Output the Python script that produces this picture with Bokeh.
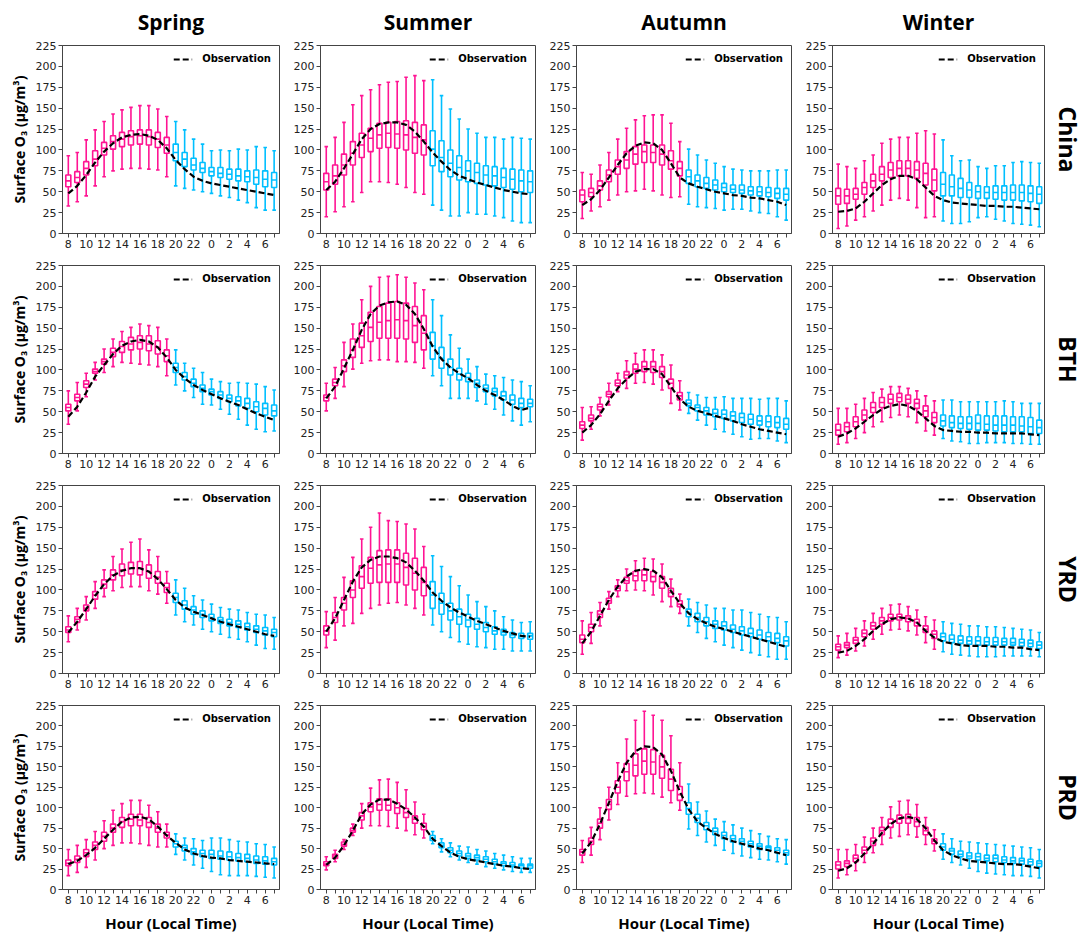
from bokeh.plotting import figure
from bokeh.layouts import gridplot
from bokeh.models import ColumnDataSource, FixedTicker, Title, Range1d
from bokeh.transform import dodge
from bokeh.embed import file_html
from bokeh.resources import INLINE

# ---------------- data ----------------
hours = [8, 9, 10, 11, 12, 13, 14, 15, 16, 17, 18, 19, 20, 21, 22, 23, 0, 1, 2, 3, 4, 5, 6, 7]
seasons = ["Spring", "Summer", "Autumn", "Winter"]
regions = ["China", "BTH", "YRD", "PRD"]
y_ticks = [0, 25, 50, 75, 100, 125, 150, 175, 200, 225]

# China
china_spring_lo = [33, 38, 45, 57, 68, 75, 77, 78, 78, 77, 76, 68, 57, 54, 52, 50, 48, 45, 43, 40, 37, 31, 28, 28]
china_spring_q1 = [56, 61, 70, 81, 94, 101, 104, 106, 107, 106, 103, 96, 87, 80, 76, 73, 69, 67, 65, 63, 62, 59, 56, 55]
china_spring_med = [63, 67, 78, 89, 102, 110, 113, 116, 117, 116, 113, 106, 97, 89, 82, 78, 74, 72, 71, 69, 68, 67, 65, 64]
china_spring_q3 = [70, 74, 86, 99, 109, 117, 121, 123, 124, 124, 121, 115, 107, 97, 90, 85, 79, 79, 77, 77, 75, 76, 75, 73]
china_spring_hi = [93, 97, 112, 124, 134, 143, 148, 151, 153, 153, 149, 140, 134, 124, 113, 107, 99, 100, 99, 101, 100, 104, 103, 99]
china_spring_obs = [48, 57, 70, 85, 98, 108, 115, 118, 119, 117, 112, 102, 88, 77, 68, 63, 60, 58, 56, 54, 52, 50, 48, 46]

china_summer_lo = [20, 26, 32, 38, 49, 62, 62, 61, 59, 55, 49, 47, 34, 28, 21, 21, 25, 23, 23, 21, 19, 15, 13, 13]
china_summer_q1 = [52, 59, 70, 82, 91, 98, 102, 103, 102, 100, 96, 94, 81, 74, 68, 64, 62, 60, 58, 57, 55, 53, 50, 49]
china_summer_med = [62, 69, 82, 96, 106, 114, 118, 120, 119, 118, 115, 112, 101, 91, 84, 79, 75, 73, 70, 69, 67, 65, 63, 62]
china_summer_q3 = [72, 82, 95, 110, 120, 126, 132, 133, 134, 135, 133, 130, 123, 111, 100, 93, 87, 84, 81, 80, 78, 77, 76, 75]
china_summer_hi = [104, 115, 133, 154, 165, 172, 178, 181, 182, 187, 189, 183, 184, 165, 149, 137, 125, 120, 115, 115, 113, 115, 114, 113]
china_summer_obs = [52, 62, 78, 95, 113, 125, 131, 133, 133, 130, 122, 110, 97, 86, 76, 69, 65, 61, 58, 55, 52, 50, 48, 47]

china_autumn_lo = [18, 27, 32, 40, 46, 50, 51, 53, 51, 46, 43, 44, 35, 32, 31, 30, 28, 29, 29, 27, 25, 24, 20, 16]
china_autumn_q1 = [38, 44, 52, 62, 71, 78, 83, 85, 85, 82, 77, 69, 60, 56, 54, 52, 50, 49, 48, 46, 45, 44, 42, 40]
china_autumn_med = [46, 49, 57, 70, 80, 88, 95, 98, 97, 95, 87, 78, 68, 63, 60, 58, 55, 53, 52, 51, 50, 49, 48, 47]
china_autumn_q3 = [52, 54, 63, 76, 88, 98, 104, 106, 106, 106, 99, 86, 76, 70, 67, 64, 60, 58, 58, 56, 56, 55, 54, 54]
china_autumn_hi = [73, 71, 82, 97, 113, 126, 136, 141, 142, 142, 132, 110, 101, 94, 88, 84, 80, 77, 76, 75, 75, 75, 76, 76]
china_autumn_obs = [34, 41, 52, 67, 82, 96, 105, 109, 108, 100, 84, 67, 60, 56, 53, 50, 48, 46, 45, 43, 42, 40, 38, 34]

china_winter_lo = [6, 9, 16, 20, 27, 34, 40, 42, 40, 31, 19, 20, 15, 12, 12, 14, 19, 20, 17, 15, 12, 11, 10, 8]
china_winter_q1 = [35, 36, 41, 47, 55, 63, 67, 69, 69, 66, 58, 51, 45, 45, 43, 43, 42, 42, 41, 40, 40, 39, 38, 36]
china_winter_med = [45, 45, 47, 55, 63, 71, 76, 78, 78, 76, 72, 64, 59, 56, 54, 52, 50, 49, 49, 49, 49, 49, 48, 47]
china_winter_q3 = [54, 53, 54, 61, 71, 80, 85, 87, 87, 86, 84, 77, 73, 70, 66, 61, 57, 56, 57, 57, 58, 58, 57, 56]
china_winter_hi = [83, 80, 78, 87, 94, 108, 113, 115, 115, 120, 123, 119, 112, 93, 87, 88, 80, 78, 81, 81, 85, 86, 85, 84]
china_winter_obs = [26, 27, 30, 38, 48, 58, 65, 69, 69, 65, 55, 45, 40, 37, 36, 35, 34, 33, 33, 32, 32, 31, 30, 29]

# BTH
bth_spring_lo = [35, 51, 68, 88, 97, 104, 109, 108, 107, 106, 104, 93, 82, 75, 67, 59, 58, 53, 47, 41, 34, 29, 26, 27]
bth_spring_q1 = [51, 63, 79, 96, 107, 116, 121, 124, 125, 123, 119, 110, 97, 88, 80, 74, 70, 66, 62, 57, 54, 50, 46, 45]
bth_spring_med = [55, 67, 83, 98, 110, 121, 128, 131, 133, 131, 127, 117, 103, 92, 84, 78, 74, 70, 66, 63, 60, 56, 54, 51]
bth_spring_q3 = [59, 71, 87, 101, 113, 126, 134, 139, 141, 141, 135, 124, 108, 97, 89, 82, 77, 74, 70, 68, 66, 62, 60, 58]
bth_spring_hi = [75, 85, 96, 109, 125, 137, 146, 151, 155, 153, 151, 137, 124, 108, 102, 97, 89, 86, 84, 85, 84, 83, 80, 76]
bth_spring_obs = [44, 56, 73, 92, 106, 119, 129, 134, 136, 134, 127, 115, 100, 90, 82, 76, 71, 66, 62, 58, 53, 48, 44, 40]

bth_summer_lo = [51, 66, 80, 101, 108, 111, 112, 112, 110, 110, 109, 102, 93, 81, 66, 66, 66, 63, 59, 53, 46, 39, 34, 38]
bth_summer_q1 = [63, 81, 98, 115, 127, 134, 138, 138, 138, 137, 133, 124, 113, 102, 94, 88, 86, 79, 74, 69, 64, 59, 55, 56]
bth_summer_med = [67, 85, 105, 124, 141, 151, 157, 159, 160, 159, 153, 144, 129, 114, 103, 95, 91, 84, 78, 74, 69, 64, 60, 60]
bth_summer_q3 = [70, 89, 112, 137, 156, 169, 176, 180, 182, 180, 176, 165, 145, 127, 113, 102, 96, 88, 82, 78, 74, 70, 66, 65]
bth_summer_hi = [84, 103, 133, 155, 184, 200, 211, 212, 214, 211, 204, 196, 184, 165, 142, 126, 113, 104, 95, 93, 91, 88, 86, 81]
bth_summer_obs = [66, 80, 102, 124, 148, 167, 177, 181, 182, 178, 167, 149, 128, 113, 103, 96, 90, 82, 75, 70, 64, 57, 52, 55]

bth_autumn_lo = [16, 29, 45, 58, 74, 78, 84, 85, 83, 76, 60, 52, 48, 40, 34, 29, 26, 23, 20, 17, 18, 18, 15, 13]
bth_autumn_q1 = [30, 39, 52, 68, 81, 90, 96, 98, 97, 91, 78, 64, 57, 51, 46, 44, 42, 39, 37, 35, 34, 32, 31, 29]
bth_autumn_med = [34, 42, 56, 71, 84, 94, 101, 104, 104, 98, 84, 69, 60, 55, 51, 48, 47, 45, 43, 41, 39, 38, 37, 35]
bth_autumn_q3 = [38, 46, 59, 74, 88, 98, 107, 110, 110, 104, 89, 73, 64, 58, 55, 53, 52, 50, 48, 47, 45, 45, 44, 42]
bth_autumn_hi = [55, 56, 67, 84, 96, 111, 120, 124, 124, 118, 106, 87, 73, 70, 67, 67, 68, 66, 66, 66, 65, 66, 66, 63]
bth_autumn_obs = [25, 34, 47, 63, 78, 89, 98, 101, 101, 95, 80, 65, 56, 51, 48, 45, 42, 39, 35, 32, 29, 27, 25, 23]

bth_winter_lo = [11, 13, 18, 25, 32, 38, 43, 46, 44, 37, 27, 22, 18, 15, 14, 12, 12, 13, 13, 13, 12, 12, 11, 11]
bth_winter_q1 = [22, 26, 32, 40, 49, 55, 60, 62, 60, 54, 44, 37, 33, 31, 30, 29, 28, 28, 27, 26, 26, 26, 24, 24]
bth_winter_med = [28, 32, 38, 46, 55, 61, 65, 67, 65, 60, 51, 43, 39, 37, 36, 36, 36, 35, 34, 34, 34, 33, 32, 31]
bth_winter_q3 = [35, 37, 44, 52, 61, 67, 71, 72, 70, 65, 57, 49, 46, 45, 44, 44, 46, 45, 45, 45, 44, 44, 43, 40]
bth_winter_hi = [54, 54, 59, 66, 73, 77, 80, 80, 78, 75, 69, 63, 64, 64, 62, 62, 62, 62, 62, 63, 62, 60, 60, 60]
bth_winter_obs = [20, 24, 30, 38, 46, 53, 57, 59, 57, 51, 42, 33, 28, 27, 26, 26, 25, 25, 24, 24, 24, 24, 23, 22]

# YRD
yrd_spring_lo = [38, 52, 64, 78, 92, 99, 103, 104, 104, 99, 95, 84, 70, 62, 58, 53, 50, 47, 43, 41, 38, 34, 30, 29]
yrd_spring_q1 = [49, 61, 75, 89, 102, 112, 117, 119, 118, 114, 108, 97, 85, 77, 71, 67, 63, 60, 57, 55, 52, 49, 46, 44]
yrd_spring_med = [52, 65, 78, 94, 107, 118, 124, 126, 126, 122, 115, 103, 91, 82, 76, 71, 67, 64, 61, 59, 56, 53, 51, 49]
yrd_spring_q3 = [56, 68, 82, 98, 112, 124, 131, 133, 134, 130, 122, 108, 96, 87, 80, 75, 71, 67, 65, 63, 60, 57, 55, 53]
yrd_spring_hi = [69, 78, 92, 110, 124, 140, 149, 157, 161, 148, 140, 122, 112, 102, 93, 88, 83, 79, 77, 76, 73, 71, 70, 67]
yrd_spring_obs = [49, 62, 77, 93, 107, 117, 123, 126, 126, 122, 113, 101, 88, 79, 74, 70, 66, 62, 59, 56, 53, 50, 47, 45]

yrd_summer_lo = [31, 40, 57, 60, 72, 78, 82, 84, 85, 82, 78, 70, 58, 50, 43, 38, 35, 32, 31, 29, 29, 27, 27, 27]
yrd_summer_q1 = [46, 61, 76, 91, 102, 108, 109, 109, 109, 106, 100, 93, 78, 71, 64, 59, 56, 53, 50, 47, 46, 43, 42, 41]
yrd_summer_med = [51, 67, 84, 100, 116, 126, 130, 131, 131, 127, 120, 109, 94, 84, 75, 68, 64, 59, 55, 51, 49, 46, 45, 45]
yrd_summer_q3 = [57, 73, 91, 111, 129, 139, 147, 148, 148, 144, 138, 127, 110, 96, 84, 77, 71, 66, 61, 56, 53, 49, 48, 48]
yrd_summer_hi = [74, 91, 115, 139, 161, 175, 192, 183, 182, 179, 173, 152, 141, 128, 116, 105, 94, 86, 80, 75, 68, 64, 61, 62]
yrd_summer_obs = [50, 66, 88, 110, 127, 136, 140, 140, 138, 133, 123, 111, 97, 87, 79, 73, 68, 63, 59, 55, 51, 48, 45, 44]

yrd_autumn_lo = [23, 36, 57, 77, 92, 99, 100, 99, 94, 86, 80, 72, 57, 49, 42, 38, 34, 31, 28, 25, 22, 20, 17, 17]
yrd_autumn_q1 = [37, 50, 67, 84, 99, 108, 111, 111, 110, 102, 92, 80, 68, 62, 57, 54, 52, 49, 46, 44, 41, 39, 37, 33]
yrd_autumn_med = [41, 55, 71, 87, 102, 111, 117, 118, 116, 109, 97, 83, 73, 67, 62, 59, 57, 53, 51, 48, 46, 44, 42, 39]
yrd_autumn_q3 = [46, 59, 75, 90, 105, 115, 122, 124, 122, 116, 102, 87, 77, 72, 67, 63, 62, 58, 56, 54, 52, 49, 48, 44]
yrd_autumn_hi = [63, 73, 85, 98, 112, 125, 135, 138, 137, 131, 113, 95, 89, 85, 82, 78, 78, 76, 76, 73, 71, 68, 67, 62]
yrd_autumn_obs = [36, 50, 69, 88, 104, 116, 123, 125, 123, 115, 99, 84, 72, 65, 60, 56, 53, 50, 47, 44, 41, 38, 35, 32]

yrd_winter_lo = [19, 22, 27, 33, 41, 47, 52, 53, 51, 46, 37, 29, 26, 23, 22, 21, 20, 20, 20, 21, 21, 21, 21, 20]
yrd_winter_q1 = [28, 31, 36, 44, 53, 59, 63, 64, 62, 57, 49, 42, 39, 37, 36, 35, 34, 34, 34, 34, 34, 33, 32, 30]
yrd_winter_med = [32, 34, 40, 48, 57, 63, 67, 68, 66, 61, 53, 47, 44, 41, 40, 39, 39, 38, 38, 38, 37, 37, 36, 34]
yrd_winter_q3 = [35, 37, 43, 52, 61, 67, 71, 71, 69, 65, 57, 51, 48, 46, 45, 44, 44, 43, 43, 42, 42, 41, 40, 38]
yrd_winter_hi = [45, 48, 54, 63, 72, 78, 82, 83, 80, 76, 68, 64, 62, 60, 59, 57, 57, 56, 56, 55, 54, 53, 52, 49]
yrd_winter_obs = [25, 27, 33, 41, 51, 59, 65, 67, 66, 61, 51, 43, 38, 36, 34, 33, 33, 33, 32, 32, 31, 31, 29, 28]

# PRD
prd_spring_lo = [17, 21, 27, 36, 50, 54, 57, 57, 56, 54, 52, 52, 43, 36, 30, 26, 22, 18, 17, 17, 17, 16, 15, 14]
prd_spring_q1 = [29, 33, 40, 49, 59, 70, 76, 78, 78, 76, 70, 63, 52, 47, 43, 40, 38, 37, 36, 35, 34, 32, 31, 30]
prd_spring_med = [32, 37, 45, 54, 65, 75, 83, 86, 85, 82, 75, 67, 56, 51, 46, 44, 43, 41, 40, 39, 38, 36, 35, 34]
prd_spring_q3 = [36, 41, 49, 58, 70, 80, 88, 92, 92, 88, 80, 70, 59, 54, 50, 48, 48, 47, 46, 44, 43, 41, 40, 38]
prd_spring_hi = [49, 54, 61, 71, 84, 97, 105, 109, 109, 103, 95, 80, 68, 63, 62, 60, 63, 63, 61, 59, 58, 56, 55, 52]
prd_spring_obs = [31, 35, 42, 51, 62, 73, 83, 88, 89, 86, 77, 66, 57, 49, 44, 41, 39, 38, 36, 35, 34, 33, 32, 31]

prd_summer_lo = [24, 34, 49, 66, 75, 78, 78, 77, 75, 72, 67, 63, 56, 46, 40, 36, 33, 31, 28, 26, 24, 22, 21, 21]
prd_summer_q1 = [29, 38, 53, 70, 85, 95, 97, 97, 93, 88, 81, 73, 60, 51, 45, 41, 38, 36, 34, 31, 29, 28, 26, 26]
prd_summer_med = [31, 41, 55, 72, 90, 101, 104, 103, 100, 94, 86, 77, 63, 54, 48, 44, 41, 39, 37, 34, 32, 30, 29, 29]
prd_summer_q3 = [34, 43, 58, 75, 94, 106, 111, 111, 106, 99, 90, 81, 66, 57, 51, 47, 44, 42, 40, 37, 34, 33, 31, 31]
prd_summer_hi = [40, 48, 61, 80, 105, 124, 134, 135, 131, 122, 107, 92, 71, 62, 57, 53, 52, 49, 47, 44, 42, 40, 38, 38]
prd_summer_obs = [30, 39, 54, 72, 92, 104, 110, 110, 105, 98, 88, 77, 62, 53, 45, 40, 37, 35, 33, 31, 29, 28, 26, 25]

prd_autumn_lo = [33, 42, 61, 85, 104, 114, 117, 118, 117, 113, 106, 97, 74, 66, 58, 54, 48, 44, 41, 39, 37, 36, 34, 31]
prd_autumn_q1 = [42, 55, 75, 98, 118, 133, 139, 141, 141, 136, 121, 109, 92, 82, 73, 67, 62, 58, 55, 52, 49, 48, 45, 42]
prd_autumn_med = [46, 59, 81, 104, 125, 144, 152, 157, 156, 150, 135, 116, 99, 87, 78, 71, 66, 62, 59, 56, 53, 51, 48, 45]
prd_autumn_q3 = [49, 63, 86, 110, 133, 154, 166, 172, 171, 164, 147, 126, 106, 92, 82, 75, 70, 66, 62, 59, 56, 53, 51, 48]
prd_autumn_hi = [60, 76, 100, 125, 155, 184, 207, 218, 213, 207, 188, 155, 129, 107, 96, 86, 83, 79, 75, 72, 68, 65, 62, 61]
prd_autumn_obs = [44, 58, 80, 106, 132, 155, 169, 175, 174, 165, 145, 120, 98, 83, 75, 68, 63, 59, 56, 53, 50, 48, 45, 42]

prd_winter_lo = [14, 18, 23, 33, 45, 55, 63, 65, 67, 64, 55, 47, 37, 33, 30, 26, 22, 20, 19, 18, 17, 17, 16, 14]
prd_winter_q1 = [25, 28, 34, 44, 54, 67, 76, 81, 81, 77, 67, 56, 48, 43, 40, 38, 36, 35, 34, 33, 32, 31, 30, 28]
prd_winter_med = [30, 32, 38, 48, 59, 72, 81, 86, 87, 83, 72, 59, 52, 47, 43, 41, 40, 38, 38, 36, 35, 35, 34, 32]
prd_winter_q3 = [34, 35, 42, 52, 63, 76, 86, 91, 92, 88, 76, 62, 56, 50, 47, 45, 44, 42, 42, 40, 39, 38, 37, 35]
prd_winter_hi = [49, 49, 55, 64, 75, 88, 101, 108, 109, 104, 88, 73, 68, 62, 59, 58, 57, 56, 55, 54, 53, 52, 51, 49]
prd_winter_obs = [23, 26, 33, 44, 56, 69, 80, 87, 89, 86, 75, 60, 48, 42, 38, 35, 34, 33, 32, 31, 31, 30, 28, 26]

# ---------------- layout constants ----------------
DAY = "#FF1493"
NIGHT = "#00BFFF"
FRAME_W, FRAME_H = 217, 188
BORDER_L = [62, 28, 28, 28]
BORDER_R = [11, 11, 11, 41]
BORDER_T = [45, 8, 8, 8]
BORDER_B = [24, 24, 24, 42]
AX_COLOR = "#444444"
TICK_FONT = "DejaVu Sans"
LABEL_FONT = "Open Sans"

g = globals()
xs = list(range(len(hours)))
colors = [DAY if 8 <= h <= 19 else NIGHT for h in hours]

grid = []
for r, region in enumerate(regions):
    row = []
    for c, season in enumerate(seasons):
        key = f"{region.lower()}_{season.lower()}"
        src = ColumnDataSource(dict(
            x=xs, lo=g[key + "_lo"], q1=g[key + "_q1"], med=g[key + "_med"],
            q3=g[key + "_q3"], hi=g[key + "_hi"], obs=g[key + "_obs"], color=colors))
        p = figure(width=BORDER_L[c] + FRAME_W + BORDER_R[c],
                   height=BORDER_T[r] + FRAME_H + BORDER_B[r],
                   x_range=Range1d(-0.65, 23.6), y_range=Range1d(0, 225),
                   output_backend="svg", toolbar_location=None,
                   min_border_left=BORDER_L[c], min_border_right=BORDER_R[c],
                   min_border_top=BORDER_T[r], min_border_bottom=BORDER_B[r])
        p.xgrid.visible = False
        p.ygrid.visible = False
        p.outline_line_color = AX_COLOR
        p.outline_line_width = 1
        p.background_fill_color = "white"

        lw = 1.6
        p.segment(x0="x", y0="q3", x1="x", y1="hi", line_color="color", line_width=lw, source=src)
        p.segment(x0="x", y0="lo", x1="x", y1="q1", line_color="color", line_width=lw, source=src)
        p.segment(x0=dodge("x", -0.2), y0="hi", x1=dodge("x", 0.2), y1="hi", line_color="color", line_width=lw, source=src)
        p.segment(x0=dodge("x", -0.2), y0="lo", x1=dodge("x", 0.2), y1="lo", line_color="color", line_width=lw, source=src)
        p.vbar(x="x", width=0.56, bottom="q1", top="q3", fill_color="white", fill_alpha=0.0,
               line_color="color", line_width=lw, source=src)
        p.segment(x0=dodge("x", -0.28), y0="med", x1=dodge("x", 0.28), y1="med", line_color="color", line_width=lw, source=src)
        p.line(x="x", y="obs", line_color="black", line_dash="6 3", line_width=2.2, source=src,
               legend_label="Observation")

        lg = p.legend[0]
        lg.location = "top_right"
        lg.border_line_alpha = 0
        lg.background_fill_alpha = 0
        lg.label_text_font = TICK_FONT
        lg.label_text_font_style = "bold"
        lg.label_text_font_size = "10px"
        lg.label_text_color = "black"
        lg.glyph_width = 19
        lg.glyph_height = 10
        lg.label_standoff = 10
        lg.padding = 2
        lg.margin = 6
        lg.label_height = 10

        for ax in (p.xaxis[0], p.yaxis[0]):
            ax.axis_line_color = AX_COLOR
            ax.major_tick_line_color = AX_COLOR
            ax.major_tick_out = 4
            ax.major_tick_in = 0
            ax.minor_tick_line_color = None
            ax.major_label_text_font = TICK_FONT
            ax.major_label_text_font_size = "11px"
            ax.major_label_text_color = "#222222"
            ax.major_label_standoff = 2
        p.xaxis.ticker = FixedTicker(ticks=xs)
        p.xaxis.major_label_overrides = {i: (str(h) if i % 2 == 0 else "") for i, h in enumerate(hours)}
        p.yaxis.ticker = FixedTicker(ticks=y_ticks)

        if c == 0:
            p.yaxis.axis_label = "Surface O\u2083 (\u03bcg/m\u00b3)"
            p.yaxis.axis_label_text_font = LABEL_FONT
            p.yaxis.axis_label_text_font_style = "bold"
            p.yaxis.axis_label_text_font_size = "14px"
            p.yaxis.axis_label_text_color = "black"
            p.yaxis.axis_label_standoff = 4
        if r == len(regions) - 1:
            p.xaxis.axis_label = "Hour (Local Time)"
            p.xaxis.axis_label_text_font = LABEL_FONT
            p.xaxis.axis_label_text_font_style = "bold"
            p.xaxis.axis_label_text_font_size = "15px"
            p.xaxis.axis_label_text_color = "black"
            p.xaxis.axis_label_standoff = 6
        if r == 0:
            p.title.text = season
            p.title.align = "center"
            p.title.vertical_align = "top"
            p.title.text_font = LABEL_FONT
            p.title.text_font_style = "bold"
            p.title.text_font_size = "21px"
            p.title.text_line_height = 1.0
            p.title.text_color = "black"
            p.title.standoff = 15
        if c == len(seasons) - 1:
            p.add_layout(Title(text=region, align="center", vertical_align="top",
                               text_font=LABEL_FONT, text_font_style="bold",
                               text_font_size="23px", text_line_height=1.0,
                               text_color="black", standoff=10), "right")
        row.append(p)
    grid.append(row)

layout = gridplot(grid, toolbar_location=None)
open("out.html", "w").write(file_html(layout, INLINE))
